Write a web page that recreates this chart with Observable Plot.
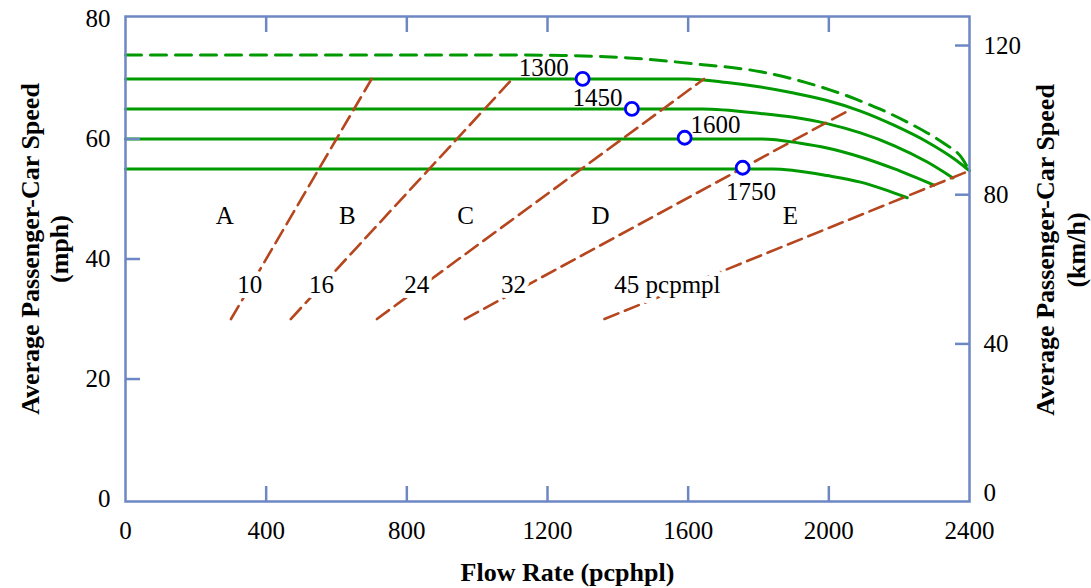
<!DOCTYPE html>
<html><head><meta charset="utf-8">
<script src="https://cdn.jsdelivr.net/npm/d3@7"></script>
<script src="https://cdn.jsdelivr.net/npm/@observablehq/plot@0.6"></script>
<style>
html,body{margin:0;padding:0;background:#fff;}
#chart svg{display:block;}
</style>
</head><body><div id="chart"></div>
<script>
// ---------- data (flow rate pc/h/ln, speed mph) ----------
const xTickValues = [0, 400, 800, 1200, 1600, 2000, 2400];
const xInnerTicks = [400, 800, 1200, 1600, 2000];
const yTickValues = [0, 20, 40, 60, 80];
const yInnerTicks = [20, 40, 60];
const kmhTickValues = [0, 40, 80, 120];
const kmhInnerTicks = [40, 80, 120];

// speed-flow curves (free-flow speed 75 dashed, 70, 65, 60, 55 mph)
const curveFFS75 = [[0,74],[1000,74],[1240,73.9],[1430,73.5],[1620,72.5],[1806,71.2],[1891,70.1],[1953,69.1],[2007,68.1],[2063,66.95],[2120,65.6],[2175,64.2],[2225,62.75],[2280,61.0],[2329,59.2],[2376,57.0],[2400,54.7]];
const curveFFS70 = [[0,70],[1600,70],[1711,69.4],[1806,68.65],[1900,67.65],[1995,66.4],[2090,64.65],[2185,62.3],[2280,59.5],[2356,56.7],[2400,54.7]];
const curveFFS65 = [[0,65],[1640,65],[1806,64.25],[1900,63.6],[1995,62.55],[2090,61.0],[2185,58.9],[2280,56.15],[2353,53.5]];
const curveFFS60 = [[0,60],[1810,60],[1919,59.3],[1995,58.5],[2090,57.0],[2185,55.05],[2299,52.3]];
const curveFFS55 = [[0,55],[1840,55],[1900,54.75],[1995,53.9],[2090,52.8],[2157,51.6],[2223,50.2]];

// density (LOS boundary) lines, pc/mi/ln
const density10 = [[300,30],[700,70]];
const density16 = [[470,30],[1100,70]];
const density24 = [[715,30],[1645,70]];
const density32 = [[965,30],[2052,64.6]];
const density45 = [[1362,30],[2400,54.7]];
const densityLabels = ["10", "16", "24", "32", "45 pcpmpl"];
const densityLabelFlow = [353, 557, 828, 1103, 1541];
const densityLabelSpeed = [35.6, 35.6, 35.6, 35.6, 35.6];

// LOS letters
const losLetters = ["A", "B", "C", "D", "E"];
const losFlow = [282, 631, 967, 1351, 1891];
const losSpeed = [47.1, 47.1, 47.1, 47.1, 47.1];

// break-point markers
const markerFlow = [1300, 1440, 1590, 1755];
const markerSpeed = [70, 65, 60.2, 55.2];
const markerLabels = ["1300", "1450", "1600", "1750"];
const markerLabelFlow = [1189, 1342, 1678, 1779];
const markerLabelSpeed = [71.8, 66.8, 62.3, 51.2];

const xTitle = "Flow Rate (pcphpl)";
const yTitle = "Average Passenger-Car Speed";
const yUnitLeft = "(mph)";
const yUnitRight = "(km/h)";

// ---------- build tables ----------
const MPH_PER_KMH = 0.621371;
const RIGHT_AXIS_SHIFT = 1.0; // right axis as drawn in the source is offset slightly
const kmhToAxis = k => k * MPH_PER_KMH + RIGHT_AXIS_SHIFT;

const toRows = (pts, id) => pts.map(([flow, speed]) => ({flow, speed, id}));
const solidRows = [
  ...toRows(curveFFS70, "70"), ...toRows(curveFFS65, "65"),
  ...toRows(curveFFS60, "60"), ...toRows(curveFFS55, "55")
];
const dashedRows = toRows(curveFFS75, "75");
const densityRows = [
  ...toRows(density10, "10"), ...toRows(density16, "16"), ...toRows(density24, "24"),
  ...toRows(density32, "32"), ...toRows(density45, "45")
];
const densityLabelRows = densityLabels.map((t, i) => ({t, flow: densityLabelFlow[i], speed: densityLabelSpeed[i]}));
const losRows = losLetters.map((t, i) => ({t, flow: losFlow[i], speed: losSpeed[i]}));
const markerRows = markerFlow.map((f, i) => ({flow: f, speed: markerSpeed[i]}));
const markerLabelRows = markerLabels.map((t, i) => ({t, flow: markerLabelFlow[i], speed: markerLabelSpeed[i]}));

const frameColor = "#6d87c4";
const green = "#009900";
const brown = "#b5461e";
const FS = 25;
const TFS = 26;

const chart = Plot.plot({
  width: 1091,
  height: 588,
  marginLeft: 125,
  marginRight: 122,
  marginTop: 16,
  marginBottom: 87,
  x: {domain: [0, 2400], axis: null},
  y: {domain: [-0.4, 80.4], axis: null},
  style: {fontFamily: "'Liberation Serif', 'Times New Roman', serif", fontSize: FS + "px", background: "white", color: "black"},
  marks: [
    // curves
    Plot.line(solidRows, {x: "flow", y: "speed", z: "id", stroke: green, strokeWidth: 3, curve: "monotone-x"}),
    Plot.line(dashedRows, {x: "flow", y: "speed", stroke: green, strokeWidth: 3, strokeDasharray: "16,9", curve: "monotone-x"}),
    Plot.line(densityRows, {x: "flow", y: "speed", z: "id", stroke: brown, strokeWidth: 2.6, strokeDasharray: "15,7"}),
    // density labels with white halo (gaps in the lines)
    Plot.text(densityLabelRows, {x: "flow", y: "speed", text: "t", fill: "black", stroke: "white", strokeWidth: 10, fontSize: FS}),
    // LOS letters
    Plot.text(losRows, {x: "flow", y: "speed", text: "t", fill: "black", fontSize: FS}),
    // markers
    Plot.dot(markerRows, {x: "flow", y: "speed", r: 6.5, stroke: "#0000ff", strokeWidth: 2.8, fill: "white"}),
    Plot.text(markerLabelRows, {x: "flow", y: "speed", text: "t", fill: "black", fontSize: FS}),
    // frame and inward ticks
    Plot.frame({stroke: frameColor, strokeWidth: 2.5}),
    Plot.axisX(xInnerTicks, {anchor: "bottom", tickSize: -15, tickFormat: () => "", label: null, stroke: frameColor, strokeWidth: 2.5}),
    Plot.axisX(xInnerTicks, {anchor: "top", tickSize: -15, tickFormat: () => "", label: null, stroke: frameColor, strokeWidth: 2.5}),
    Plot.axisY(yInnerTicks, {anchor: "left", tickSize: -15, tickFormat: () => "", label: null, stroke: frameColor, strokeWidth: 2.5}),
    Plot.axisY(kmhInnerTicks.map(kmhToAxis), {anchor: "right", tickSize: -15, tickFormat: () => "", label: null, stroke: frameColor, strokeWidth: 2.5}),
    // tick labels
    Plot.text(xTickValues, {x: d => d, frameAnchor: "bottom", dy: 29, lineAnchor: "middle", textAnchor: "middle", text: d => String(d), fill: "black", fontSize: FS}),
    Plot.text(yTickValues, {y: d => d, frameAnchor: "left", dx: -15, textAnchor: "end", text: d => String(d), fill: "black", fontSize: FS}),
    Plot.text(kmhTickValues, {y: d => kmhToAxis(d), frameAnchor: "right", dx: 14, textAnchor: "start", text: d => String(d), fill: "black", fontSize: FS}),
    // axis titles
    Plot.text([xTitle], {frameAnchor: "bottom", dx: 20, dy: 71, lineAnchor: "middle", textAnchor: "middle", text: d => d, fontWeight: "bold", fill: "black", fontSize: TFS}),
    Plot.text([yTitle], {frameAnchor: "left", rotate: -90, dx: -95, dy: -10, textAnchor: "middle", lineAnchor: "middle", text: d => d, fontWeight: "bold", fill: "black", fontSize: TFS}),
    Plot.text([yUnitLeft], {frameAnchor: "left", rotate: -90, dx: -66, dy: -10, textAnchor: "middle", lineAnchor: "middle", text: d => d, fontWeight: "bold", fill: "black", fontSize: TFS}),
    Plot.text([yTitle], {frameAnchor: "right", rotate: -90, dx: 76, dy: -9, textAnchor: "middle", lineAnchor: "middle", text: d => d, fontWeight: "bold", fill: "black", fontSize: TFS}),
    Plot.text([yUnitRight], {frameAnchor: "right", rotate: -90, dx: 107, dy: -9, textAnchor: "middle", lineAnchor: "middle", text: d => d, fontWeight: "bold", fill: "black", fontSize: TFS})
  ]
});
document.getElementById("chart").appendChild(chart);
</script>
</body></html>
